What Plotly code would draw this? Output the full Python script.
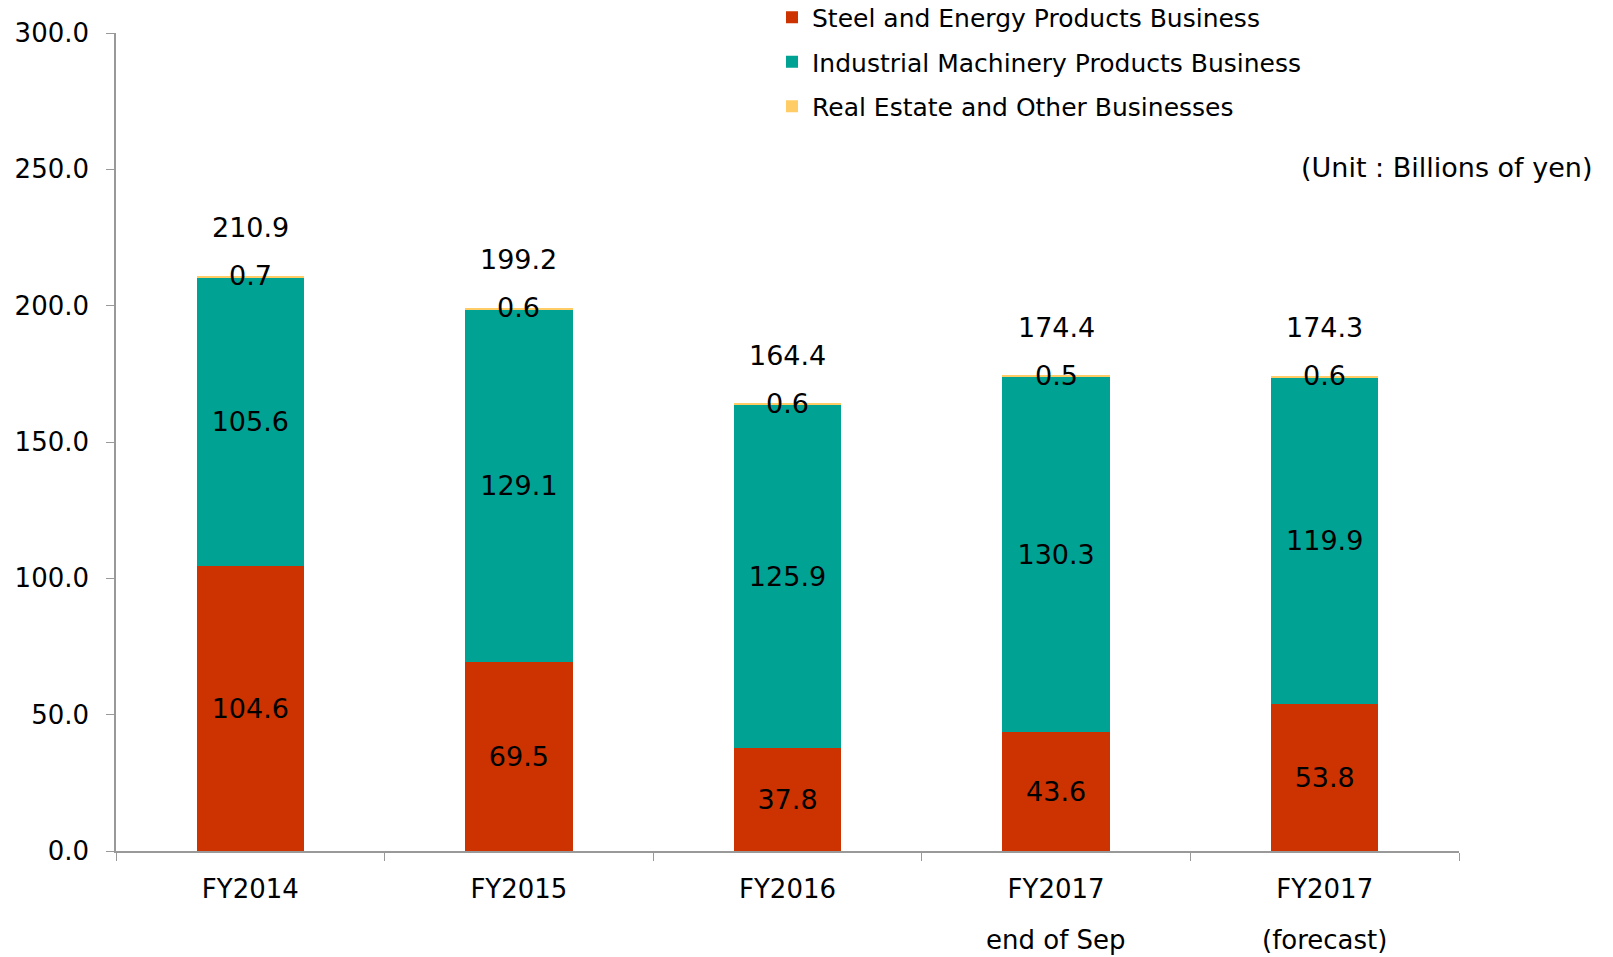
import plotly.graph_objects as go

categories = ["FY2014", "FY2015", "FY2016", "FY2017a", "FY2017b"]
tick_labels = ["FY2014", "FY2015", "FY2016", "FY2017", "FY2017"]
sub_labels = ["", "", "", "end of Sep", "(forecast)"]
steel = [104.6, 69.5, 37.8, 43.6, 53.8]
machinery = [105.6, 129.1, 125.9, 130.3, 119.9]
real_estate = [0.7, 0.6, 0.6, 0.5, 0.6]
totals = [210.9, 199.2, 164.4, 174.4, 174.3]

FONT = "DejaVu Sans"
FS = 26
FS_LABEL = 27

L, R, T, B = 116, 154, 33, 106
W, H = 1613, 957
PW, PH = W - L - R, H - T - B

fig = go.Figure()
series = [
    ("Steel and Energy Products Business", steel, "#CC3300", True),
    ("Industrial Machinery Products Business", machinery, "#00A294", True),
    ("Real Estate and Other Businesses", real_estate, "#FFCC66", False),
]
for i, (name, vals, color, show_text) in enumerate(series):
    fig.add_trace(go.Bar(
        x=categories, y=vals, name=name,
        marker=dict(color=color, line=dict(width=0)),
        text=[f"{v:.1f}" for v in vals] if show_text else None,
        textposition="inside" if show_text else "none",
        insidetextanchor="middle",
        textangle=0,
        textfont=dict(family=FONT, size=FS_LABEL, color="black"),
        legendgroup=f"g{i}",
        width=0.4,
    ))

annotations = []
for c, s, m, r, t in zip(categories, steel, machinery, real_estate, totals):
    top = s + m + r
    annotations.append(dict(x=c, y=top, xref="x", yref="y", text=f"{r:.1f}",
                            showarrow=False, yanchor="middle",
                            font=dict(family=FONT, size=FS_LABEL, color="black")))
    annotations.append(dict(x=c, y=top, xref="x", yref="y", text=f"{t:.1f}",
                            showarrow=False, yanchor="middle", yshift=48,
                            font=dict(family=FONT, size=FS_LABEL, color="black")))
for c, sub in zip(categories, sub_labels):
    if sub:
        annotations.append(dict(x=c, y=0, xref="x", yref="y", text=sub,
                                showarrow=False, yanchor="middle", yshift=-89,
                                font=dict(family=FONT, size=FS, color="black")))
annotations.append(dict(x=(1594 - L) / PW, y=(H - B - 167) / PH, xref="paper", yref="paper",
                        text="(Unit : Billions of yen)", showarrow=False,
                        xanchor="right", yanchor="middle",
                        font=dict(family=FONT, size=27, color="black")))

fig.update_layout(
    barmode="stack",
    width=W, height=H,
    margin=dict(l=L, r=R, t=T, b=B, autoexpand=False),
    plot_bgcolor="white", paper_bgcolor="white",
    font=dict(family=FONT, size=FS, color="black"),
    legend=dict(x=772 / W, y=1 + 5 / H, xref="container", yref="paper",
                xanchor="left", yanchor="top",
                traceorder="grouped", tracegroupgap=9,
                font=dict(family=FONT, size=25, color="black"),
                bgcolor="rgba(0,0,0,0)"),
    annotations=annotations,
    xaxis=dict(
        type="category", tickmode="array", tickvals=categories, ticktext=tick_labels,
        tickson="boundaries", ticks="outside", ticklen=8, tickcolor="#999999",
        showline=True, linecolor="#999999", linewidth=1.5,
        showgrid=False, ticklabelstandoff=14,
        tickfont=dict(family=FONT, size=FS, color="black"),
    ),
    yaxis=dict(
        range=[0, 300], dtick=50, tickformat=".1f",
        ticks="outside", ticklen=8, tickcolor="#999999",
        showline=True, linecolor="#999999", linewidth=1.5,
        showgrid=False, zeroline=False, ticklabelstandoff=12,
        tickfont=dict(family=FONT, size=FS, color="black"),
    ),
)
fig.update_layout(legend_y=1 + (T + 5.5) / PH)

fig.write_html("out.html", config={"displayModeBar": False},
               post_script="document.body.style.margin='0';document.body.style.overflow='hidden';")
